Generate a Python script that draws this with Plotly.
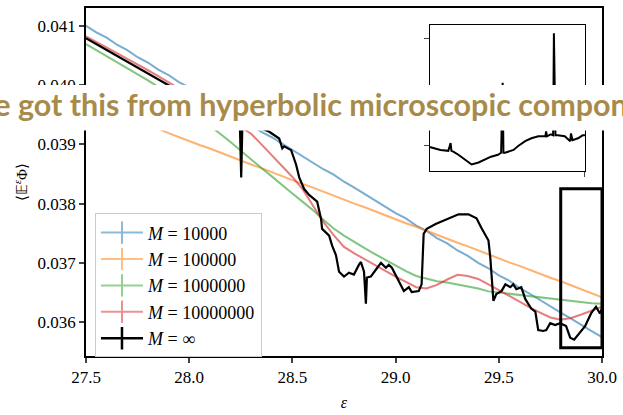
import plotly.graph_objects as go

# ---------------- data ----------------
eps = [27.50, 27.55, 27.60, 27.65, 27.70, 27.75, 27.80, 27.85, 27.90, 27.95,
       28.00, 28.05, 28.10, 28.15, 28.20, 28.25, 28.30, 28.35, 28.40, 28.45,
       28.50, 28.55, 28.60, 28.65, 28.70, 28.75, 28.80, 28.85, 28.90, 28.95,
       29.00, 29.05, 29.10, 29.15, 29.20, 29.25, 29.30, 29.35, 29.40, 29.45,
       29.50, 29.55, 29.60, 29.65, 29.70, 29.75, 29.80, 29.85, 29.90, 29.95,
       30.00]

m_1e4 = [0.04100, 0.04089, 0.04080, 0.04068, 0.04059, 0.04047, 0.04038, 0.04026, 0.04017, 0.04005,
         0.03996, 0.03984, 0.03975, 0.03963, 0.03954, 0.03942, 0.03933, 0.03921, 0.03912, 0.03901,
         0.03890, 0.03880, 0.03869, 0.03858, 0.03849, 0.03837, 0.03827, 0.03816, 0.03806, 0.03795,
         0.03784, 0.03775, 0.03763, 0.03754, 0.03742, 0.03733, 0.03721, 0.03712, 0.03700, 0.03691,
         0.03679, 0.03670, 0.03658, 0.03648, 0.03637, 0.03627, 0.03616, 0.03606, 0.03595, 0.03585,
         0.03575]

m_1e5 = [0.03972, 0.03966, 0.03958, 0.03953, 0.03945, 0.03939, 0.03932, 0.03926, 0.03919, 0.03912,
         0.03906, 0.03899, 0.03893, 0.03886, 0.03879, 0.03873, 0.03866, 0.03860, 0.03853, 0.03847,
         0.03840, 0.03833, 0.03827, 0.03820, 0.03814, 0.03807, 0.03800, 0.03794, 0.03787, 0.03781,
         0.03774, 0.03767, 0.03761, 0.03754, 0.03748, 0.03741, 0.03734, 0.03728, 0.03721, 0.03715,
         0.03708, 0.03701, 0.03695, 0.03688, 0.03682, 0.03675, 0.03669, 0.03662, 0.03656, 0.03649,
         0.03642]

m_1e6 = [0.04069, 0.04059, 0.04049, 0.04039, 0.04029, 0.04018, 0.04008, 0.03997, 0.03984, 0.03971,
         0.03958, 0.03944, 0.03931, 0.03918, 0.03904, 0.03889, 0.03874, 0.03860, 0.03846, 0.03831,
         0.03817, 0.03803, 0.03789, 0.03773, 0.03758, 0.03746, 0.03735, 0.03725, 0.03715, 0.03705,
         0.03696, 0.03686, 0.03678, 0.03673, 0.03669, 0.03667, 0.03664, 0.03661, 0.03657, 0.03652,
         0.03650, 0.03647, 0.03645, 0.03643, 0.03641, 0.03639, 0.03637, 0.03636, 0.03634, 0.03632,
         0.03631]

m_1e7 = [0.04082, 0.04073, 0.04063, 0.04054, 0.04044, 0.04035, 0.04025, 0.04015, 0.04005, 0.03995,
         0.03984, 0.03973, 0.03962, 0.03951, 0.03940, 0.03930, 0.03918, 0.03900, 0.03882, 0.03864,
         0.03845, 0.03824, 0.03797, 0.03769, 0.03747, 0.03727, 0.03716, 0.03706, 0.03697, 0.03687,
         0.03677, 0.03668, 0.03659, 0.03657, 0.03663, 0.03672, 0.03680, 0.03678, 0.03673, 0.03664,
         0.03654, 0.03644, 0.03634, 0.03625, 0.03616, 0.03608, 0.03604, 0.03607, 0.03613, 0.03620,
         0.03626]

inf_eps = [27.500, 27.600, 27.700, 27.800, 27.900, 28.000, 28.100, 28.200, 28.245, 28.252,
           28.258, 28.300, 28.388, 28.436, 28.451, 28.460, 28.494, 28.518, 28.533, 28.557,
           28.581, 28.620, 28.639, 28.644, 28.678, 28.692, 28.711, 28.726, 28.750, 28.774,
           28.798, 28.822, 28.832, 28.847, 28.856, 28.861, 28.880, 28.904, 28.929, 28.953,
           28.967, 28.982, 29.006, 29.015, 29.040, 29.064, 29.078, 29.112, 29.126, 29.136,
           29.151, 29.194, 29.257, 29.305, 29.353, 29.392, 29.416, 29.435, 29.450, 29.459,
           29.474, 29.488, 29.513, 29.532, 29.556, 29.570, 29.585, 29.609, 29.628, 29.657,
           29.677, 29.691, 29.715, 29.730, 29.749, 29.773, 29.797, 29.826, 29.846, 29.865,
           29.884, 29.918, 29.947, 29.971, 29.990, 30.000]
m_inf = [0.040790, 0.040590, 0.040390, 0.040190, 0.039990, 0.039800, 0.039620, 0.039460, 0.039400, 0.038440,
         0.039390, 0.039340, 0.039213, 0.039098, 0.038934, 0.038967, 0.038902, 0.038656, 0.038443, 0.038246,
         0.038148, 0.038033, 0.037738, 0.037574, 0.037459, 0.037295, 0.037131, 0.036852, 0.036770, 0.036836,
         0.036803, 0.036967, 0.037016, 0.036852, 0.036311, 0.036754, 0.036770, 0.036885, 0.037000, 0.036918,
         0.036967, 0.036918, 0.036754, 0.036689, 0.036525, 0.036590, 0.036508, 0.036525, 0.036639, 0.037492,
         0.037574, 0.037656, 0.037754, 0.037820, 0.037820, 0.037754, 0.037590, 0.037459, 0.037377, 0.037082,
         0.036361, 0.036475, 0.036525, 0.036639, 0.036590, 0.036639, 0.036557, 0.036590, 0.036393, 0.036230,
         0.036180, 0.035869, 0.035852, 0.035869, 0.035984, 0.035951, 0.035984, 0.035934, 0.035738, 0.035705,
         0.035787, 0.035934, 0.036148, 0.036262, 0.036148, 0.036230]

inset_eps = [29.800, 29.808, 29.814, 29.824, 29.827, 29.828, 29.831, 29.837, 29.846, 29.854,
             29.863, 29.872, 29.879, 29.888, 29.892, 29.894, 29.895, 29.897, 29.908, 29.914,
             29.923, 29.931, 29.940, 29.949, 29.950, 29.951, 29.956, 29.959, 29.960, 29.962,
             29.965, 29.974, 29.981, 29.982, 29.984, 29.991, 29.997, 30.000]
inset_inf = [0.035964, 0.035927, 0.035909, 0.035891, 0.036036, 0.035891, 0.035873, 0.035818, 0.035727, 0.035636,
             0.035673, 0.035727, 0.035782, 0.035818, 0.035855, 0.037164, 0.035855, 0.035855, 0.035909, 0.035982,
             0.036073, 0.036127, 0.036164, 0.036164, 0.036255, 0.036164, 0.036200, 0.036182, 0.038091, 0.036182,
             0.036182, 0.036164, 0.036073, 0.036218, 0.036090, 0.036127, 0.036182, 0.036182]

series_names = ["<i>M</i> = 10000", "<i>M</i> = 100000", "<i>M</i> = 1000000",
                "<i>M</i> = 10000000", "<i>M</i> = ∞"]
colors = ["#1f77b4", "#ff7f0e", "#2ca02c", "#d62728", "#000000"]
x_ticks = [27.5, 28.0, 28.5, 29.0, 29.5, 30.0]
y_ticks = [0.036, 0.037, 0.038, 0.039, 0.040, 0.041]
zoom_box = [29.8, 30.0, 0.03557, 0.03825]
banner_text = "We got this from hyperbolic microscopic components"

# ---------------- figure ----------------
fig = go.Figure()
colored = [m_1e4, m_1e5, m_1e6, m_1e7]
for vals, c in zip(colored, colors[:4]):
    fig.add_trace(go.Scatter(x=eps, y=vals, mode="lines", line=dict(color=c, width=2),
                             opacity=0.6, showlegend=False, hoverinfo="skip"))
fig.add_trace(go.Scatter(x=inf_eps, y=m_inf, mode="lines", line=dict(color="black", width=2.2),
                         showlegend=False, hoverinfo="skip"))

# legend entries (line with error-bar tick)
for i, (nm, c) in enumerate(zip(series_names, colors)):
    fig.add_trace(go.Scatter(x=[None], y=[None], mode="lines+markers", name=nm,
                             legendgroup=f"g{i}",
                             line=dict(color=c, width=2.5 if i == 4 else 2),
                             marker=dict(symbol="line-ns", size=18, color=c,
                                         line=dict(color=c, width=2.5 if i == 4 else 2)),
                             opacity=1.0 if i == 4 else 0.5))

# inset
fig.add_trace(go.Scatter(x=inset_eps, y=inset_inf, mode="lines", line=dict(color="black", width=2),
                         xaxis="x2", yaxis="y2", showlegend=False, hoverinfo="skip"))

fig.add_shape(type="rect", xref="x", yref="y", x0=zoom_box[0], x1=zoom_box[1],
              y0=zoom_box[2], y1=zoom_box[3], line=dict(color="black", width=3))

# white banner with text
fig.add_shape(type="rect", xref="paper", yref="paper", x0=-0.3, x1=1.2, y0=0.648, y1=0.779,
              fillcolor="white", line=dict(width=0), layer="above")
fig.add_annotation(text=banner_text, xref="paper", yref="paper", x=0.463, y=0.7235,
                   xanchor="center", yanchor="middle", showarrow=False,
                   font=dict(family="Lato", size=30.5, color="#a88b4b", weight="bold"))

serif = "Liberation Serif"
fig.update_layout(
    width=623, height=415,
    margin=dict(l=86, r=19, t=6, b=51),
    paper_bgcolor="white", plot_bgcolor="white",
    font=dict(family=serif, size=17, color="black"),
    showlegend=True,
    legend=dict(x=0.0174, y=-0.004, xanchor="left", yanchor="bottom",
                bgcolor="rgba(255,255,255,0.85)", bordercolor="#cccccc", borderwidth=1,
                font=dict(family=serif, size=18), tracegroupgap=0, itemwidth=42),
    xaxis=dict(range=[27.5, 30.0], tickvals=x_ticks, ticktext=[f"{v:.1f}" for v in x_ticks],
               showline=True, mirror=True, linecolor="black", linewidth=1.5,
               ticks="outside", ticklen=5, tickwidth=1.5, showgrid=False, zeroline=False,
               title=dict(text="<i>ε</i>", font=dict(size=16), standoff=11)),
    yaxis=dict(range=[0.03543, 0.0413], tickvals=y_ticks, ticktext=[f"{v:.3f}" for v in y_ticks],
               showline=True, mirror=True, linecolor="black", linewidth=1.5,
               ticks="outside", ticklen=5, tickwidth=1.5, showgrid=False, zeroline=False,
               title=dict(text="⟨𝔼<sup><i>ε</i></sup>Φ⟩", font=dict(size=15), standoff=6)),
    xaxis2=dict(domain=[0.666, 0.967], anchor="y2", range=[29.8, 30.0], tickvals=[30.0],
                showticklabels=False, showline=True, mirror=True, linecolor="black", linewidth=1,
                ticks="outside", ticklen=5, showgrid=False, zeroline=False),
    yaxis2=dict(domain=[0.531, 0.950], anchor="x2", range=[0.03551, 0.03824], tickvals=[0.036, 0.038],
                showticklabels=False, showline=True, mirror=True, linecolor="black", linewidth=1,
                ticks="outside", ticklen=5, showgrid=False, zeroline=False),
)

fig.write_html("out.html")
